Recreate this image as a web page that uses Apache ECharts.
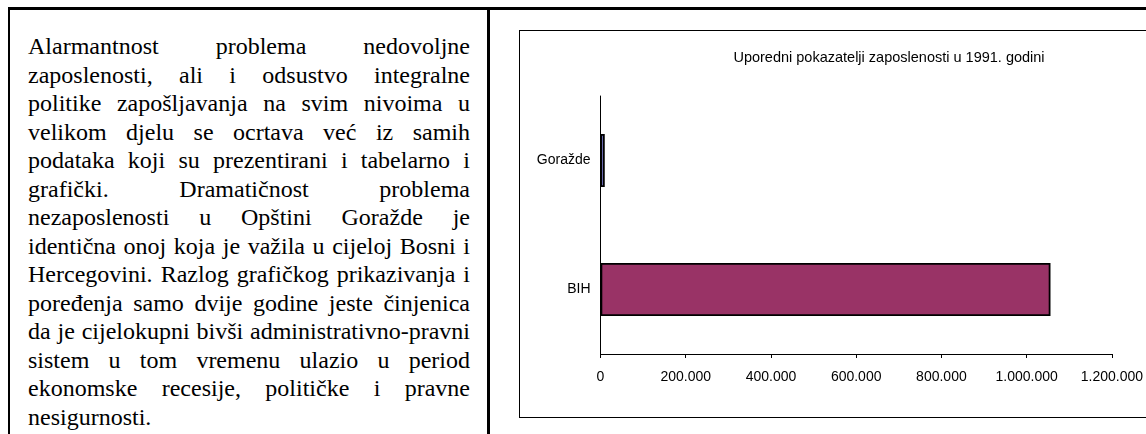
<!DOCTYPE html>
<html>
<head>
<meta charset="utf-8">
<script src="https://cdn.jsdelivr.net/npm/echarts@6/dist/echarts.min.js"></script>
<style>
    html, body { margin: 0; padding: 0; background: #fff; }
    #page { position: relative; width: 1146px; height: 434px; overflow: hidden; }
    .hline { position: absolute; left: 8px; top: 7px; width: 1146px; height: 3px; background: #000; }
    .vline { position: absolute; top: 7px; bottom: 0; background: #000; }
    #text {
        position: absolute; left: 28px; top: 32px; width: 442px;
        font-family: "Liberation Serif", "Times New Roman", serif;
        font-size: 24px; line-height: 28.5px; color: #000;
    }
    #text div { text-align: justify; text-align-last: justify; white-space: nowrap; }
    #text div.last { text-align-last: left; }
    #frame { position: absolute; left: 519px; top: 30px; width: 700px; height: 386px; border: 1px solid #000; }
    #chart { position: absolute; left: 0; top: 0; width: 1146px; height: 434px; }
</style>
</head>
<body>
<div id="page">
    <div class="hline"></div>
    <div class="vline" style="left:8px;width:2px;"></div>
    <div class="vline" style="left:487px;width:3px;"></div>
    <div id="text"></div>
    <div id="frame"></div>
    <div id="chart"></div>
</div>
<script>
// tekst lijevo, red po red kao u originalu
var textLines = [
    'Alarmantnost problema nedovoljne',
    'zaposlenosti, ali i odsustvo integralne',
    'politike zapošljavanja na svim nivoima u',
    'velikom djelu se ocrtava već iz samih',
    'podataka koji su prezentirani i tabelarno i',
    'grafički. Dramatičnost problema',
    'nezaposlenosti u Opštini Goražde je',
    'identična onoj koja je važila u cijeloj Bosni i',
    'Hercegovini. Razlog grafičkog prikazivanja i',
    'poređenja samo dvije godine jeste činjenica',
    'da je cijelokupni bivši administrativno-pravni',
    'sistem u tom vremenu ulazio u period',
    'ekonomske recesije, političke i pravne',
    'nesigurnosti.'
];

// podaci za grafikon (odozdo prema gore)
var categories = ['BIH', 'Goražde'];
var employed = [1056000, 10000];
var barColors = ['#993366', '#9999FF'];

(function () {
    var box = document.getElementById('text');
    textLines.forEach(function (t, i) {
        var d = document.createElement('div');
        d.textContent = t;
        if (i === textLines.length - 1) d.className = 'last';
        box.appendChild(d);
    });
})();

(function () {
    var myChart = echarts.init(document.getElementById('chart'), null, { renderer: 'canvas' });

    function fmt(v) {
        return String(v).replace(/\B(?=(\d{3})+(?!\d))/g, '.');
    }

    var option = {
        animation: false,
        textStyle: { fontFamily: 'Liberation Sans, Arial, sans-serif' },
        title: {
            text: 'Uporedni pokazatelji zaposlenosti u 1991. godini',
            left: 884,
            top: 45,
            textAlign: 'center',
            textStyle: { fontSize: 14.5, fontWeight: 'normal', color: '#000', fontFamily: 'Liberation Sans, Arial, sans-serif' }
        },
        grid: { left: 600.5, right: 31.5, top: 96, bottom: 80, containLabel: false },
        xAxis: {
            type: 'value',
            min: 0,
            max: 1200000,
            interval: 200000,
            axisLine: { show: true, lineStyle: { color: '#000', width: 1 } },
            axisTick: { show: true, length: 4, lineStyle: { color: '#000' } },
            axisLabel: { color: '#000', fontSize: 14, margin: 16, formatter: fmt },
            splitLine: { show: false }
        },
        yAxis: {
            type: 'category',
            data: categories,
            axisLine: { show: true, lineStyle: { color: '#000', width: 1 } },
            axisTick: { show: false },
            axisLabel: { color: '#000', fontSize: 14, margin: 10 }
        },
        series: [{
            type: 'bar',
            barWidth: 53,
            data: employed.map(function (v, i) {
                return { value: v, itemStyle: { color: barColors[i] } };
            }),
            itemStyle: { borderColor: '#000', borderWidth: 1.8 }
        }]
    };

    myChart.setOption(option);
    window.addEventListener('resize', function () {
        myChart.resize();
    });
})();
</script>
</body>
</html>
